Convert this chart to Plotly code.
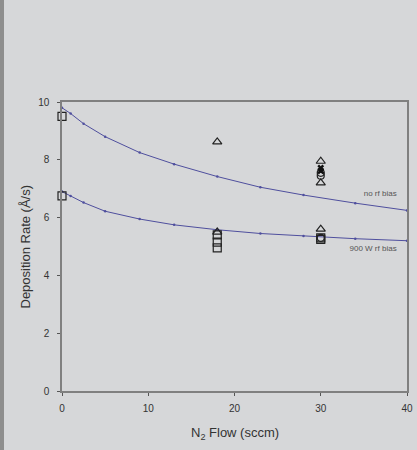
import plotly.graph_objects as go

# Trend curves
fit_x = [0, 1, 2.5, 5, 9, 13, 18, 23, 28, 34, 40]
fit_no_bias = [9.8, 9.6, 9.25, 8.8, 8.25, 7.85, 7.42, 7.05, 6.78, 6.5, 6.25]
fit_900w = [6.9, 6.75, 6.52, 6.22, 5.95, 5.75, 5.58, 5.45, 5.36, 5.27, 5.2]

# Measured points
sq_x = [0, 0, 18, 18, 18, 30, 30]
sq_y = [9.5, 6.75, 5.4, 5.15, 4.95, 5.3, 5.25]
tri_x = [18, 18, 30, 30, 30]
tri_y = [8.62, 5.5, 7.95, 7.2, 5.6]
circ_x = [30, 30, 30]
circ_y = [7.55, 7.45, 5.3]
fill_x = [30, 30]
fill_y = [7.72, 7.62]

label_text = ["no rf bias", "900 W rf bias"]
label_x = [38.8, 38.8]
label_y = [6.8, 4.92]

x_ticks = [0, 10, 20, 30, 40]
y_ticks = [0, 2, 4, 6, 8, 10]
x_title = "N<sub>2</sub> Flow (sccm)"
y_title = "Deposition Rate (Å/s)"

blue = "#4f4f9e"
fig = go.Figure()
for ys in (fit_no_bias, fit_900w):
    fig.add_trace(go.Scatter(x=fit_x, y=ys, mode="lines+markers",
                             line=dict(color=blue, width=1),
                             marker=dict(color=blue, size=2.5),
                             cliponaxis=False,
                             showlegend=False, hoverinfo="skip"))
fig.add_trace(go.Scatter(x=sq_x, y=sq_y, mode="markers", cliponaxis=False,
                         marker=dict(symbol="square-open", size=8, color="#222",
                                     line=dict(width=1.2)), showlegend=False))
fig.add_trace(go.Scatter(x=tri_x, y=tri_y, mode="markers", cliponaxis=False,
                         marker=dict(symbol="triangle-up-open", size=8, color="#222",
                                     line=dict(width=1.2)), showlegend=False))
fig.add_trace(go.Scatter(x=circ_x, y=circ_y, mode="markers", cliponaxis=False,
                         marker=dict(symbol="circle-open", size=7, color="#222",
                                     line=dict(width=1.2)), showlegend=False))
fig.add_trace(go.Scatter(x=fill_x, y=fill_y, mode="markers", cliponaxis=False,
                         marker=dict(symbol="x", size=6, color="#111"),
                         showlegend=False))
fig.add_trace(go.Scatter(x=label_x, y=label_y, mode="text", text=label_text,
                         textposition="middle left", cliponaxis=False,
                         textfont=dict(family="Liberation Sans", size=8, color="#555"),
                         showlegend=False, hoverinfo="skip"))

axis_common = dict(showline=True, linecolor="#808080", linewidth=1.5, mirror=True,
                   showgrid=False, zeroline=False, ticks="outside", ticklen=3,
                   automargin=False,
                   tickcolor="#555", tickfont=dict(family="Liberation Sans", size=10, color="#333"))
fig.update_xaxes(range=[0, 40], tickvals=x_ticks, ticklabelstandoff=4, **axis_common)
fig.update_yaxes(range=[0, 10], tickvals=y_ticks, ticklabelstandoff=6, **axis_common)

fig.add_annotation(text=x_title, xref="paper", yref="paper", x=0.5, y=0,
                   yshift=-42, yanchor="middle", xanchor="center", showarrow=False,
                   font=dict(family="Liberation Sans", size=13, color="#333"))
fig.add_annotation(text=y_title, xref="paper", yref="paper", x=0, y=0.5,
                   xshift=-37, xanchor="center", yanchor="middle", textangle=-90,
                   showarrow=False,
                   font=dict(family="Liberation Sans", size=13, color="#333"))

fig.add_shape(type="rect", xref="paper", yref="paper",
              x0=-62/345, x1=-58/345, y0=-59/289, y1=1+102/289,
              fillcolor="#8e8e8e", line=dict(width=0), layer="above")

fig.update_layout(width=417, height=450, margin=dict(l=62, r=10, t=102, b=59),
                  paper_bgcolor="#d6d7d9", plot_bgcolor="#d6d7d9")
fig.write_html("out.html", config={"displayModeBar": False},
               post_script="document.body.style.margin='0';document.body.style.background='#d6d7d9';")
